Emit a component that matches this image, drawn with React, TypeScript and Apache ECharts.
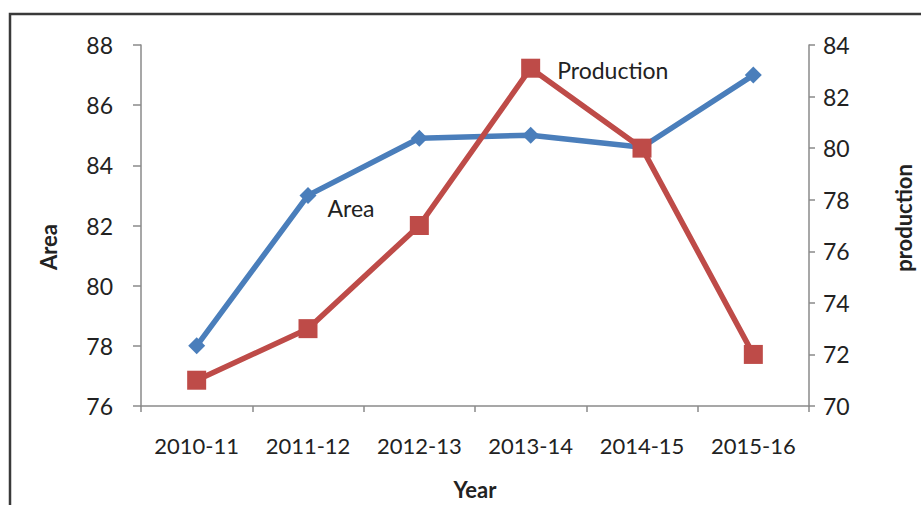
import React, { useEffect, useRef } from "react";
import * as echarts from "echarts";

const years = ["2010-11", "2011-12", "2012-13", "2013-14", "2014-15", "2015-16"];
const areaValues = [78.0, 83.0, 84.9, 85.0, 84.6, 87.0];
const productionValues = [71.0, 73.0, 77.0, 83.1, 80.0, 72.0];
const areaLabelIndex = 1;
const productionLabelIndex = 3;
const leftAxisTitle = "Area";
const rightAxisTitle = "production";
const xAxisTitle = "Year";

const FONT = "Lato, 'Open Sans', sans-serif";
const BLUE = "#4A7EBB";
const RED = "#BE4B48";
const TEXT = "#222";

export default function App() {
  const ref = useRef<HTMLDivElement>(null);
  useEffect(() => {
    if (!ref.current) return;
    const chart = echarts.init(ref.current, null, { renderer: "svg" });
    const axisLine = { show: true, lineStyle: { color: "#8a8a8a", width: 1.5 } };
    const titleStyle = { fontFamily: FONT, fontSize: 22, fontWeight: "bold", fill: TEXT, align: "center", verticalAlign: "middle" };
    chart.setOption({
      animation: false,
      backgroundColor: "#ffffff",
      textStyle: { fontFamily: FONT },
      grid: { left: 141, right: 112, top: 45, bottom: 92, containLabel: false },
      graphic: [
        {
          type: "polyline",
          shape: { points: [[10, 510], [10, 14], [930, 14]] },
          style: { stroke: "#3a3a3a", lineWidth: 2.5, fill: "none" },
          silent: true,
        },
        {
          type: "text",
          x: 48,
          y: 247,
          rotation: Math.PI / 2,
          style: { ...titleStyle, text: leftAxisTitle },
          silent: true,
        },
        {
          type: "text",
          x: 903,
          y: 218,
          rotation: Math.PI / 2,
          style: { ...titleStyle, text: rightAxisTitle },
          silent: true,
        },
      ],
      xAxis: {
        type: "category",
        data: years,
        boundaryGap: true,
        name: xAxisTitle,
        nameLocation: "middle",
        nameGap: 72,
        nameTextStyle: { fontFamily: FONT, fontSize: 22, fontWeight: "bold", color: TEXT },
        axisLine,
        axisTick: { show: true, inside: false, interval: 0, length: 6, lineStyle: { color: "#8a8a8a", width: 1.5 } },
        axisLabel: { interval: 0, margin: 28, fontFamily: FONT, fontSize: 22, color: TEXT },
        splitLine: { show: false },
      },
      yAxis: [
        {
          type: "value",
          min: 76,
          max: 88,
          interval: 2,
          position: "left",
          axisLine,
          axisTick: { show: true, inside: false, length: 8, lineStyle: { color: "#8a8a8a", width: 1.5 } },
          axisLabel: { margin: 28, fontFamily: FONT, fontSize: 23, color: TEXT },
          splitLine: { show: false },
        },
        {
          type: "value",
          min: 70,
          max: 84,
          interval: 2,
          position: "right",
          axisLine,
          axisTick: { show: true, inside: false, length: 6, lineStyle: { color: "#8a8a8a", width: 1.5 } },
          axisLabel: { margin: 14, fontFamily: FONT, fontSize: 23, color: TEXT },
          splitLine: { show: false },
        },
      ],
      series: [
        {
          name: "Area",
          type: "line",
          yAxisIndex: 0,
          data: areaValues.map((v, i) =>
            i === areaLabelIndex
              ? {
                  value: v,
                  label: {
                    show: true,
                    position: "right",
                    distance: 11,
                    offset: [0, 13],
                    formatter: "Area",
                    fontFamily: FONT,
                    fontSize: 23,
                    color: TEXT,
                  },
                }
              : v
          ),
          symbol: "diamond",
          symbolSize: 17,
          itemStyle: { color: BLUE },
          lineStyle: { color: BLUE, width: 5.5 },
          z: 2,
        },
        {
          name: "Production",
          type: "line",
          yAxisIndex: 1,
          data: productionValues.map((v, i) =>
            i === productionLabelIndex
              ? {
                  value: v,
                  label: {
                    show: true,
                    position: "right",
                    distance: 17,
                    offset: [0, 2],
                    formatter: "Production",
                    fontFamily: FONT,
                    fontSize: 23,
                    color: TEXT,
                  },
                }
              : v
          ),
          symbol: "rect",
          symbolSize: 19,
          itemStyle: { color: RED },
          lineStyle: { color: RED, width: 5.5 },
          z: 3,
        },
      ],
    });
    return () => chart.dispose();
  }, []);
  return (
    <div
      ref={ref}
      style={{ position: "absolute", left: 0, top: 0, width: 921, height: 505, background: "#fff" }}
    />
  );
}
